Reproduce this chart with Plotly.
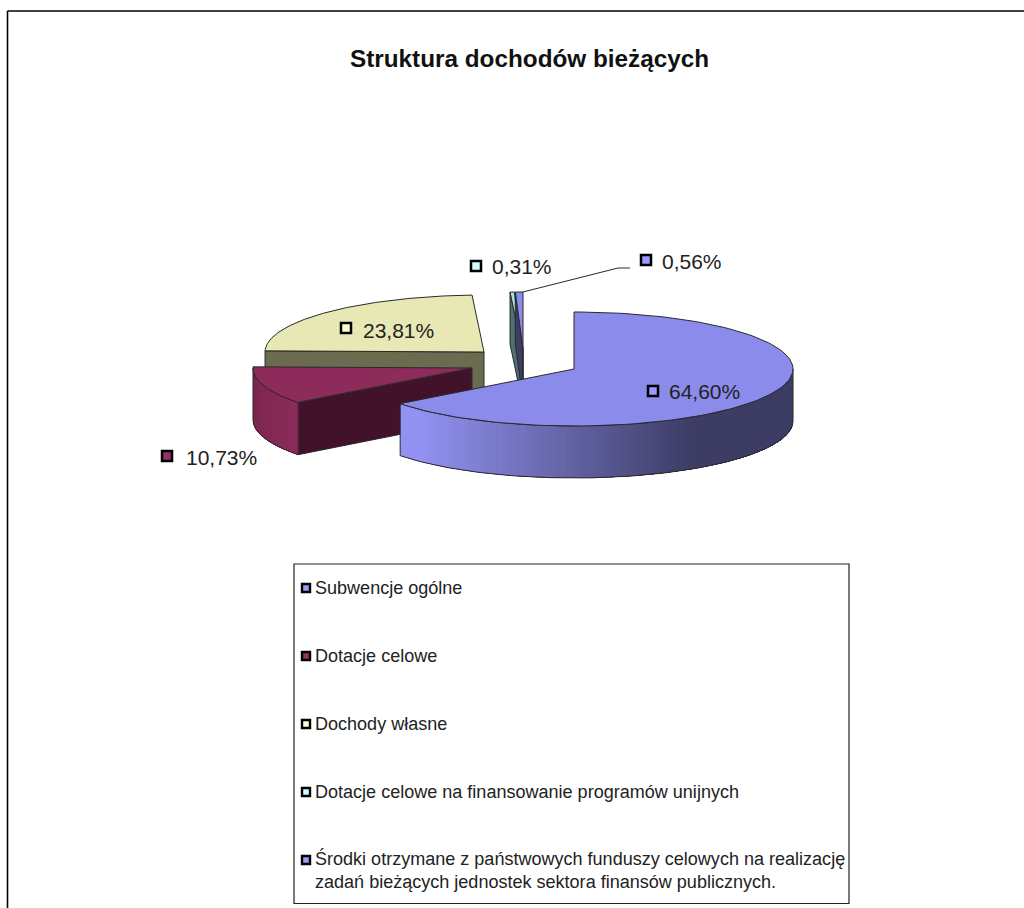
import numpy as np
import plotly.graph_objects as go

title = "Struktura dochodów bieżących"
categories = ["Subwencje ogólne", "Dotacje celowe", "Dochody własne",
              "Dotacje celowe na finansowanie programów unijnych",
              "Środki otrzymane z państwowych funduszy celowych na realizację<br>zadań bieżących jednostek sektora finansów publicznych."]
values = [64.60, 10.73, 23.81, 0.31, 0.56]

# 3D-pie projection
centers_x = [574, 472, 484, 522, 523]
centers_y = [369, 368, 352, 349, 349]
RX, RY, DEPTH = 219, 57, 52

top_colors = ["#8B8BEB", "#8D2C5A", "#E8E8B4", "#A8E4E4", "#8B8BEB"]
face_colors = ["#3C3C64", "#42122B", "#6B6B50", "#4D7070", "#3C3C64"]
key_colors = ["#9999FF", "#993366", "#FFFFCC", "#CCFFFF", "#9999FF"]
EDGE = "#2a2a2a"

label_x = [653, 167, 346, 476, 646]
label_y = [391, 456, 328, 266, 260]
text_x = [667, 184, 361, 490, 660]
text_y = [391, 457, 330, 266, 261]
legend_rows = [588, 656, 724, 792, 860]

fig = go.Figure()


def poly(xs, ys, fill, line=EDGE, width=1):
    fig.add_trace(go.Scatter(x=list(xs), y=list(ys), mode="lines", fill="toself",
                             fillcolor=fill, hoverinfo="skip", showlegend=False,
                             line=dict(color=line if line else fill, width=width)))


def arc(cx, cy, a0, a1, n=120):
    t = np.radians(np.linspace(a0, a1, n))
    return cx + RX * np.sin(t), cy - RY * np.cos(t)


def mix(c0, c1, f):
    a = [int(c0[i:i + 2], 16) for i in (1, 3, 5)]
    b = [int(c1[i:i + 2], 16) for i in (1, 3, 5)]
    return "rgb(%d,%d,%d)" % tuple(a[i] + (b[i] - a[i]) * f for i in range(3))


total = sum(values)
edges = np.concatenate([[0], np.cumsum(values)]) / total * 360
order = [2, 3, 4, 1, 0]  # painter's order, back to front

for i in order:
    cx, cy = centers_x[i], centers_y[i]
    a0, a1 = edges[i], edges[i + 1]
    # radial wall when it faces the viewer
    if 180 < a0 < 360 and i != 0:
        ox, oy = arc(cx, cy, a0, a0, 1)
        poly([ox[0], cx, cx, ox[0], ox[0]],
             [oy[0], cy, cy + DEPTH, oy[0] + DEPTH, oy[0]], face_colors[i])
    # outer curved wall (front half only)
    lo, hi = max(a0, 90), min(a1, 270)
    if hi > lo:
        n = 90 if i == 0 else 30
        steps = np.linspace(lo, hi, n + 1)
        # paint from the far end inward, each strip reaching under its neighbour to avoid seams
        for k in range(n - 1, -1, -1):
            x0, y0 = arc(cx, cy, lo, steps[k + 1], 3 * (k + 1) + 2)
            xm = arc(cx, cy, steps[k], steps[k + 1], 3)[0].mean()
            if i == 0:
                col = mix("#9292F2", "#3C3C64", np.clip((xm - 420) / 275, 0, 1))
            else:
                col = mix("#7C2650", top_colors[i], np.clip((xm - 252) / 45, 0, 1))
            poly(np.r_[x0, x0[::-1], x0[0]], np.r_[y0, y0[::-1] + DEPTH, y0[0]], col, line=col, width=0)
        xa, ya = arc(cx, cy, lo, hi)
        poly(np.r_[xa, xa[-1], xa[::-1], xa[0], xa[0]],
             np.r_[ya, ya[-1] + DEPTH, ya[::-1] + DEPTH, ya[0] + DEPTH, ya[0]],
             "rgba(0,0,0,0)")
    if i == 4:
        poly([cx, cx], [cy, cy + DEPTH], "rgba(0,0,0,0)", width=1.5)
    # top face
    xa, ya = arc(cx, cy, a0, a1)
    poly(np.r_[cx, xa, cx], np.r_[cy, ya, cy], top_colors[i])

# leader line of the smallest slice
fig.add_trace(go.Scatter(x=[centers_x[4], 618, 630], y=[centers_y[4] - RY, 268, 268], mode="lines",
                         hoverinfo="skip", showlegend=False, line=dict(color=EDGE, width=1)))

# data labels
fig.add_trace(go.Scatter(x=label_x, y=label_y, mode="markers", hoverinfo="skip", showlegend=False,
                         marker=dict(symbol="square", size=10, color=key_colors, line=dict(color="#000", width=2.5))))
annotations = []
for tx, ty, v in zip(text_x, text_y, values):
    annotations.append(dict(x=tx, y=ty, text=f"{v:.2f}".replace(".", ",") + "%", showarrow=False,
                            xanchor="left", yanchor="middle",
                            font=dict(family="Liberation Sans", size=21, color="#222")))

annotations.append(dict(x=529, y=58, text=f"<b>{title}</b>", showarrow=False, xanchor="center", yanchor="middle",
                        font=dict(family="Liberation Sans", size=24.3, color="#111")))

# legend box
shapes = [dict(type="rect", x0=294, x1=849, y0=564, y1=903.5, line=dict(color="#222", width=1.2), fillcolor="rgba(0,0,0,0)", layer="below"),
          dict(type="line", x0=7.5, x1=1024, y0=11, y1=11, line=dict(color="#000", width=1.6)),
          dict(type="line", x0=7.5, x1=7.5, y0=11, y1=908, line=dict(color="#000", width=1.6))]
fig.add_trace(go.Scatter(x=[306] * 5, y=legend_rows, mode="markers", hoverinfo="skip", showlegend=False,
                         marker=dict(symbol="square", size=8, color=key_colors, line=dict(color="#000", width=2.4))))
for r, c in zip(legend_rows, categories):
    two = "<br>" in c
    annotations.append(dict(x=312.5, y=r if not two else r + 9.5, text=c, showarrow=False, xanchor="left",
                            yanchor="middle", align="left",
                            font=dict(family="Liberation Sans", size=18.05, color="#222")))

fig.update_layout(width=1024, height=908, margin=dict(l=0, r=0, t=0, b=0), paper_bgcolor="white", plot_bgcolor="white",
                  xaxis=dict(range=[0, 1024], visible=False, fixedrange=True),
                  yaxis=dict(range=[908, 0], visible=False, fixedrange=True),
                  annotations=annotations, shapes=shapes, showlegend=False)
fig.write_html("out.html", config={"displayModeBar": False},
               post_script="document.body.style.margin='0';document.body.style.overflow='hidden';")
